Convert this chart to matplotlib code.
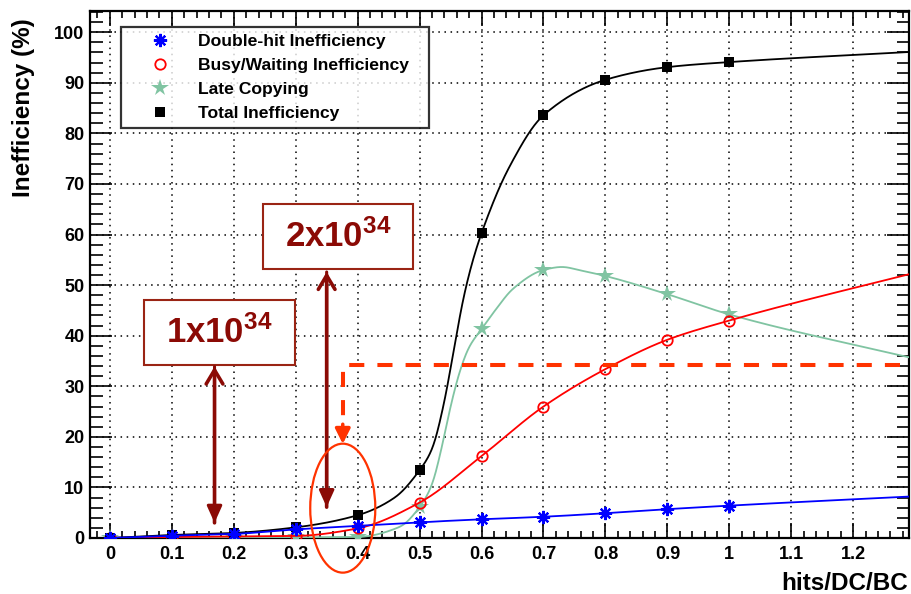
import numpy as np
import matplotlib
matplotlib.use("Agg")
import matplotlib.pyplot as plt
from matplotlib.patches import Rectangle, Ellipse
from matplotlib.ticker import MultipleLocator, FormatStrFormatter

# ---------------- data ----------------
x_vals = [0.0, 0.1, 0.2, 0.3, 0.4, 0.5, 0.6, 0.7, 0.8, 0.9, 1.0]
double_hit = [0.0, 0.45, 0.8, 1.7, 2.4, 3.1, 3.7, 4.2, 4.9, 5.7, 6.4]
busy_wait = [0.0, 0.2, 0.3, 0.4, 1.9, 7.0, 16.2, 26.0, 33.4, 39.2, 43.0]
late_copy = [0.0, 0.0, 0.0, 0.1, 0.2, 6.1, 41.3, 53.0, 51.8, 48.2, 44.2]
total = [0.0, 0.6, 1.0, 2.1, 4.5, 13.4, 60.3, 83.6, 90.6, 93.1, 94.1]

# extra points on the drawn smooth curves
double_hit_curve_x = [1.29]
double_hit_curve_y = [8.2]
busy_wait_curve_x = [1.29]
busy_wait_curve_y = [52.2]
late_copy_curve_x = [0.468, 0.52, 0.535, 0.55, 0.565, 0.58, 0.625, 0.65,
                     0.73, 0.76, 1.29]
late_copy_curve_y = [2.2, 10.5, 17.5, 26.0, 33.0, 37.8, 45.5, 49.2,
                     53.6, 52.9, 35.7]
total_curve_x = [0.46, 0.52, 0.54, 0.555, 0.57, 0.585, 0.645, 1.29]
total_curve_y = [8.0, 17.5, 27.0, 37.0, 47.0, 54.5, 73.4, 96.1]

labels = ["Double-hit Inefficiency", "Busy/Waiting Inefficiency",
          "Late Copying", "Total Inefficiency"]
colors = ["#0000ff", "#ff0000", "#80c4a2", "#000000"]

lumi_labels = [r"$\mathbf{1x10^{34}}$", r"$\mathbf{2x10^{34}}$"]

x_label = "hits/DC/BC"
y_label = "Inefficiency (%)"


def pchip(x, y, xs):
    x = np.asarray(x, float)
    y = np.asarray(y, float)
    h = np.diff(x)
    d = np.diff(y) / h
    n = len(x)
    m = np.zeros(n)
    for k in range(1, n - 1):
        if d[k - 1] * d[k] <= 0:
            m[k] = 0.0
        else:
            w1 = 2 * h[k] + h[k - 1]
            w2 = h[k] + 2 * h[k - 1]
            m[k] = (w1 + w2) / (w1 / d[k - 1] + w2 / d[k])
    m[0] = d[0]
    m[-1] = d[-1]
    idx = np.clip(np.searchsorted(x, xs) - 1, 0, n - 2)
    t = (xs - x[idx]) / h[idx]
    h00 = 2 * t**3 - 3 * t**2 + 1
    h10 = t**3 - 2 * t**2 + t
    h01 = -2 * t**3 + 3 * t**2
    h11 = t**3 - t**2
    return (h00 * y[idx] + h10 * h[idx] * m[idx] + h01 * y[idx + 1]
            + h11 * h[idx] * m[idx + 1])


def curve(xd, yd, xe, ye):
    xx = np.array(list(xd) + list(xe))
    yy = np.array(list(yd) + list(ye))
    o = np.argsort(xx)
    xx, yy = xx[o], yy[o]
    xs = np.linspace(xx[0], xx[-1], 1300)
    ys = pchip(xx, yy, xs)
    # light smoothing of the rendered line to remove small kinks
    dx = xs[1] - xs[0]
    sig = 0.004 / dx
    k = np.arange(-int(4 * sig), int(4 * sig) + 1)
    ker = np.exp(-0.5 * (k / sig) ** 2)
    ker /= ker.sum()
    pad = len(k) // 2
    yp = np.concatenate([np.full(pad, ys[0]), ys, np.full(pad, ys[-1])])
    ys = np.convolve(yp, ker, mode="valid")
    return xs, ys


plt.rcParams["font.family"] = ["Liberation Sans", "DejaVu Sans"]
plt.rcParams["font.weight"] = "bold"
plt.rcParams["mathtext.fontset"] = "custom"
plt.rcParams["mathtext.bf"] = "Liberation Sans:bold"
plt.rcParams["mathtext.rm"] = "Liberation Sans:bold"

fig = plt.figure(figsize=(9.11, 5.94), dpi=100)
ax = fig.add_axes([90 / 911, 1 - 538 / 594, 819 / 911, 527 / 594])
ax.set_xlim(-0.032, 1.29)
ax.set_ylim(0, 104.2)

ax.xaxis.set_major_locator(MultipleLocator(0.1))
ax.xaxis.set_minor_locator(MultipleLocator(0.02))
ax.yaxis.set_major_locator(MultipleLocator(10))
ax.yaxis.set_minor_locator(MultipleLocator(2))
ax.xaxis.set_major_formatter(FormatStrFormatter("%g"))
ax.set_yticks(np.arange(0, 101, 10))

ax.tick_params(axis="both", which="both", direction="in", top=True, right=True,
               width=1.2, colors="black")
ax.tick_params(axis="x", which="major", length=10.8, pad=6, labelsize=13)
ax.tick_params(axis="x", which="minor", length=5)
ax.tick_params(axis="y", which="major", length=15.5, pad=4, labelsize=13)
ax.tick_params(axis="y", which="minor", length=9)
for lab in ax.get_xticklabels() + ax.get_yticklabels():
    lab.set_fontweight("bold")
for s in ax.spines.values():
    s.set_linewidth(1.6)

ax.grid(True, which="major", color="black", linestyle=(0, (1, 3)), linewidth=1.1)
ax.set_axisbelow(True)

series = [
    (double_hit, double_hit_curve_x, double_hit_curve_y,
     dict(marker=(8, 2, 0), markersize=9.5, markeredgewidth=1.6, markerfacecolor="none")),
    (busy_wait, busy_wait_curve_x, busy_wait_curve_y,
     dict(marker="o", markersize=7.5, markeredgewidth=1.3, markerfacecolor="none")),
    (late_copy, late_copy_curve_x, late_copy_curve_y,
     dict(marker="*", markersize=13, markeredgewidth=0)),
    (total, total_curve_x, total_curve_y,
     dict(marker="s", markersize=7, markeredgewidth=0)),
]
zorders = [6, 4, 3, 5]
handles = []
for (yd, xe, ye, mk), c, lab, z in zip(series, colors, labels, zorders):
    xs, ys = curve(x_vals, yd, xe, ye)
    ax.plot(xs, ys, color=c, lw=1.3, zorder=z)
    mkc = dict(mk)
    if mkc.get("markerfacecolor") != "none":
        mkc["markerfacecolor"] = c
    h, = ax.plot(x_vals, yd, linestyle="none", color=c, markeredgecolor=c,
                 zorder=z + 0.5, label=lab, **mkc)
    handles.append(h)

leg = ax.legend(handles=handles, loc="upper left", mode="expand",
                bbox_to_anchor=(0.0379, 0.0, 0.376, 0.9696), frameon=True,
                fancybox=False, edgecolor="black",
                prop=dict(size=12.6, weight="bold"),
                handlelength=3.66, handletextpad=0.34, borderpad=0.4,
                labelspacing=0.49, borderaxespad=0, markerscale=1.0)
leg.get_frame().set_linewidth(1.6)
leg.set_zorder(10)

# ---------------- annotations ----------------
dark_red = "#8b0a05"
box_red = "#9a2414"
orange_red = "#ff3300"

boxes = [(0.0548, 34.2, 0.2435, 12.9), (0.247, 53.2, 0.243, 12.8)]
for (bx, by, bw, bh), txt in zip(boxes, lumi_labels):
    ax.add_patch(Rectangle((bx, by), bw, bh, fill=True, facecolor="white",
                           edgecolor=box_red, lw=1.5, zorder=8))
    ax.text(bx + bw / 2, by + bh / 2, txt, ha="center", va="center",
            fontsize=25, color=dark_red, zorder=9)

arrows = [(0.169, 33.9, 3.0), (0.35, 52.6, 6.1)]
for ax_x, ytop, ybot in arrows:
    ax.annotate("", xy=(ax_x, ybot), xytext=(ax_x, ytop),
                arrowprops=dict(arrowstyle="-|>,head_length=1.0,head_width=0.45",
                                color=dark_red, lw=2.2, shrinkA=0, shrinkB=0),
                zorder=8)
    ax.annotate("", xy=(ax_x, ytop), xytext=(ax_x, ybot),
                arrowprops=dict(arrowstyle="->,head_length=1.0,head_width=0.6",
                                color=dark_red, lw=2.6, shrinkA=0, shrinkB=0),
                zorder=8)

# dashed guide line
ax.plot([1.275, 0.376, 0.376], [34.2, 34.2, 21.5], color=orange_red, lw=2.9,
        dashes=(3.75, 3.25), zorder=7, dash_capstyle="butt")
ax.annotate("", xy=(0.376, 18.6), xytext=(0.376, 22.5),
            arrowprops=dict(arrowstyle="-|>,head_length=0.9,head_width=0.45",
                            color=orange_red, lw=2.5, shrinkA=0, shrinkB=0),
            zorder=7)
ax.add_patch(Ellipse((0.376, 5.9), 0.105, 25.5, fill=False,
                     edgecolor=orange_red, lw=1.6, clip_on=False, zorder=11))

fig.text(908 / 911, 1 - 583 / 594, x_label, ha="right", va="center",
         fontsize=17.5, fontweight="bold")
fig.text(24 / 911, 1 - 108 / 594, y_label, ha="center", va="center",
         rotation=90, fontsize=17.5, fontweight="bold")

fig.savefig("out.png", dpi=100)
